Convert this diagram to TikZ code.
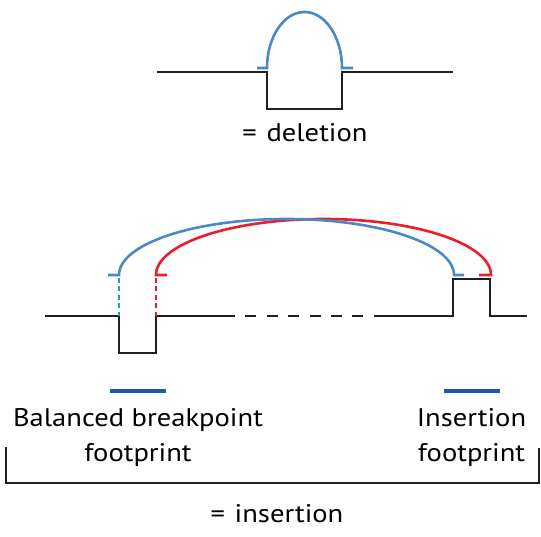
\documentclass[tikz,border=0pt]{standalone}
\usepackage{fontspec}
\setmainfont{PT Sans}[FakeStretch=1.12]
\usetikzlibrary{calc}
\definecolor{arcblue}{HTML}{4A88C8}
\definecolor{arcred}{HTML}{EC1C2A}
\definecolor{dashcyan}{HTML}{1E9EC8}
\definecolor{fpblue}{HTML}{1B5AA6}
\definecolor{dna}{HTML}{231F20}
\tikzset{
  dnaline/.style={draw=dna, line width=1.8pt, line join=miter},
  bluearc/.style={draw=arcblue, line width=2.6pt},
  redarc/.style={draw=arcred, line width=2.6pt},
  cyandash/.style={draw=dashcyan, line width=2.4pt, dash pattern=on 5pt off 3.5pt},
  reddash/.style={draw=arcred, line width=2.4pt, dash pattern=on 5pt off 3.5pt},
  fpbar/.style={draw=fpblue, line width=4.5pt},
  lbl/.style={font=\fontsize{25.5}{35}\selectfont, inner sep=0pt, anchor=base, align=center, text=black},
  bracketline/.style={draw=dna, line width=1.8pt}
}
\begin{document}
\begin{tikzpicture}[x=1pt,y=1pt]
\useasboundingbox (0,0) rectangle (541,537);
% ---------- deletion ----------
\coordinate (d0) at (157,465);
\coordinate (d1) at (267,465);
\coordinate (d2) at (342,465);
\coordinate (d3) at (453,465);
\draw[dnaline] (d0) -- (d1) -- ++(0,-37) -| (d2) -- (d3);
\coordinate (dl) at (267,469);
\coordinate (dr) at (342,469);
\draw[bluearc] ($(dl)+(-10,0)$) -- (dl) arc[start angle=180, end angle=0, x radius=37.5, y radius=56] -- ++(11,0);
\node[lbl] (deltext) at (305,395) {=\hspace{2pt} deletion};
% ---------- insertion ----------
\coordinate (a0) at (45,221);
\coordinate (a1) at (119,221);
\coordinate (a2) at (156,221);
\coordinate (a3) at (235,221);
\coordinate (b0) at (374,221);
\coordinate (b1) at (453,221);
\coordinate (b2) at (490,221);
\coordinate (b3) at (527,221);
\draw[dnaline] (a0) -- (a1) -- ++(0,-37) -| (a2) -- (a3);
\draw[draw=dna, line width=1.8pt, dash pattern=on 11pt off 10.4pt, dash phase=11pt] (a3) -- (b0);
\draw[dnaline] (b0) -- (b1) -- ++(0,37) -| (b2) -- (b3);
% breakpoint dashed verticals
\coordinate (cu) at (119,259);
\coordinate (ru) at (156,259);
\draw[cyandash] (cu) -- (a1);
\draw[reddash] (ru) -- (a2);
% arcs
\coordinate (bl) at (119,262);
\coordinate (rl) at (156,262);
\draw[redarc] ($(rl)+(11,0)$) -- (rl) arc[start angle=180, end angle=0, x radius=167.5, y radius=56] -- ++(-12,0);
\draw[bluearc] ($(bl)+(-11,0)$) -- (bl) arc[start angle=180, end angle=0, x radius=167.5, y radius=56] -- ++(10,0);
% footprints
\coordinate (f1a) at (110,146);
\coordinate (f1b) at (166,146);
\coordinate (f2a) at (444,146);
\coordinate (f2b) at (500,146);
\draw[fpbar] (f1a) -- (f1b);
\draw[fpbar] (f2a) -- (f2b);
\node[lbl] (bbf) at (138,75) {Balanced breakpoint\\footprint};
\node[lbl] (inf) at (471.5,75) {Insertion\\footprint};
% bracket
\coordinate (k0) at (6,90);
\coordinate (k1) at (539,89);
\draw[bracketline] (k0) |- (k1 |- 0,54) -- (k1);
\node[lbl] (instext) at (277,14) {=\hspace{2pt} insertion};
\end{tikzpicture}
\end{document}
